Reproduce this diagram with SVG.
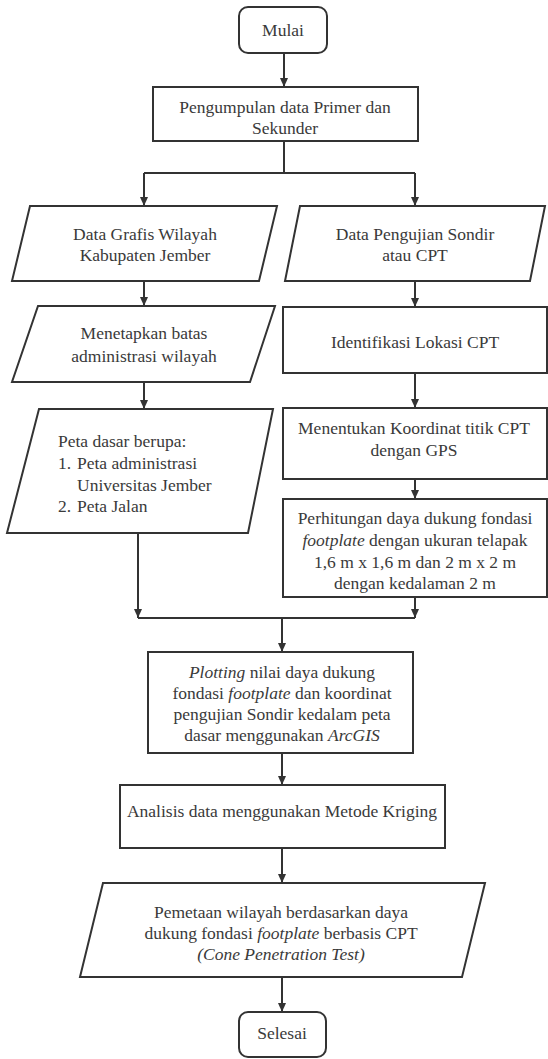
<svg xmlns="http://www.w3.org/2000/svg" width="548" height="1059" viewBox="0 0 548 1059">
<style>
.box{fill:#ffffff;stroke:#333333;stroke-width:2}
.ln{fill:none;stroke:#333333;stroke-width:2}
.ar{fill:none;stroke:#333333;stroke-width:2;marker-end:url(#ah)}
.t{font-size:17.5px;fill:#3a3a3a}
.c{text-anchor:middle}
.i{font-style:italic}
</style>
<defs>
<marker id="ah" markerUnits="userSpaceOnUse" markerWidth="9" markerHeight="8" refX="9" refY="4" orient="auto" viewBox="0 0 9 8">
<path d="M0,0 L9,4 L0,8 z" fill="#333333"/>
</marker>
</defs>
<rect width="548" height="1059" fill="#ffffff"/>
<g id="connectors">
<path class="ar" d="M284,53 V87"/>
<path class="ln" d="M284,141 V173 M144,173 H415"/>
<path class="ar" d="M144,173 V206"/>
<path class="ar" d="M415,173 V206"/>
<path class="ar" d="M144,281 V306"/>
<path class="ar" d="M415,281 V307"/>
<path class="ar" d="M144,382 V409"/>
<path class="ar" d="M415,373 V408"/>
<path class="ar" d="M415,479 V499"/>
<path class="ar" d="M138,533 V618"/>
<path class="ar" d="M415,597 V618"/>
<path class="ln" d="M138,618 H415"/>
<path class="ar" d="M282,618 V652"/>
<path class="ar" d="M282,753 V785"/>
<path class="ar" d="M282,848 V883"/>
<path class="ar" d="M282,977 V1012"/>
</g>
<g class="t" font-family="'Liberation Serif', 'DejaVu Serif', 'Times New Roman', serif">
<g id="mulai">
<rect class="box" x="239" y="7" width="88" height="46" rx="9"/>
<text class="c" x="283" y="36">Mulai</text>
</g>
<g id="pengumpulan">
<rect class="box" x="153" y="87" width="265" height="54"/>
<text class="c" x="285" y="113">Pengumpulan data Primer dan</text>
<text class="c" x="285" y="134">Sekunder</text>
</g>
<g id="data-grafis">
<polygon class="box" points="30,206 277,206 259,281 12,281"/>
<text class="c" x="145" y="240">Data Grafis Wilayah</text>
<text class="c" x="145" y="261">Kabupaten Jember</text>
</g>
<g id="data-sondir">
<polygon class="box" points="300,206 545,206 530,281 285,281"/>
<text class="c" x="415" y="240">Data Pengujian Sondir</text>
<text class="c" x="415" y="261">atau CPT</text>
</g>
<g id="menetapkan">
<polygon class="box" points="38,306 275,306 250,382 12,382"/>
<text class="c" x="144" y="339">Menetapkan batas</text>
<text class="c" x="144" y="362">administrasi wilayah</text>
</g>
<g id="identifikasi">
<rect class="box" x="283" y="307" width="264" height="66"/>
<text class="c" x="415" y="348">Identifikasi Lokasi CPT</text>
</g>
<g id="peta-dasar">
<polygon class="box" points="39,409 273,409 248,533 7,533"/>
<text x="58" y="447">Peta dasar berupa:</text>
<text x="58" y="469">1.</text>
<text x="77" y="469">Peta administrasi</text>
<text x="77" y="491">Universitas Jember</text>
<text x="58" y="512">2.</text>
<text x="77" y="512">Peta Jalan</text>
</g>
<g id="menentukan">
<rect class="box" x="283" y="408" width="264" height="71"/>
<text class="c" x="414" y="434">Menentukan Koordinat titik CPT</text>
<text class="c" x="414" y="456">dengan GPS</text>
</g>
<g id="perhitungan">
<rect class="box" x="283" y="499" width="264" height="98"/>
<text class="c" x="415" y="524">Perhitungan daya dukung fondasi</text>
<text class="c" x="415" y="546"><tspan class="i">footplate</tspan> dengan ukuran telapak</text>
<text class="c" x="415" y="568">1,6 m x 1,6 m dan 2 m x 2 m</text>
<text class="c" x="415" y="589">dengan kedalaman 2 m</text>
</g>
<g id="plotting">
<rect class="box" x="148" y="652" width="265" height="101"/>
<text class="c" x="282" y="678"><tspan class="i">Plotting</tspan> nilai daya dukung</text>
<text class="c" x="282" y="699">fondasi <tspan class="i">footplate</tspan> dan koordinat</text>
<text class="c" x="282" y="720">pengujian Sondir kedalam peta</text>
<text class="c" x="282" y="741">dasar menggunakan <tspan class="i">ArcGIS</tspan></text>
</g>
<g id="analisis">
<rect class="box" x="120" y="785" width="325" height="63"/>
<text class="c" x="282" y="817">Analisis data menggunakan Metode Kriging</text>
</g>
<g id="pemetaan">
<polygon class="box" points="103,883 485,883 462,977 80,977"/>
<text class="c" x="281" y="918">Pemetaan wilayah berdasarkan daya</text>
<text class="c" x="281" y="939">dukung fondasi <tspan class="i">footplate</tspan> berbasis CPT</text>
<text class="c i" x="281" y="960">(Cone Penetration Test)</text>
</g>
<g id="selesai">
<rect class="box" x="239" y="1012" width="87" height="45" rx="9"/>
<text class="c" x="282" y="1039">Selesai</text>
</g>
</g>
</svg>
